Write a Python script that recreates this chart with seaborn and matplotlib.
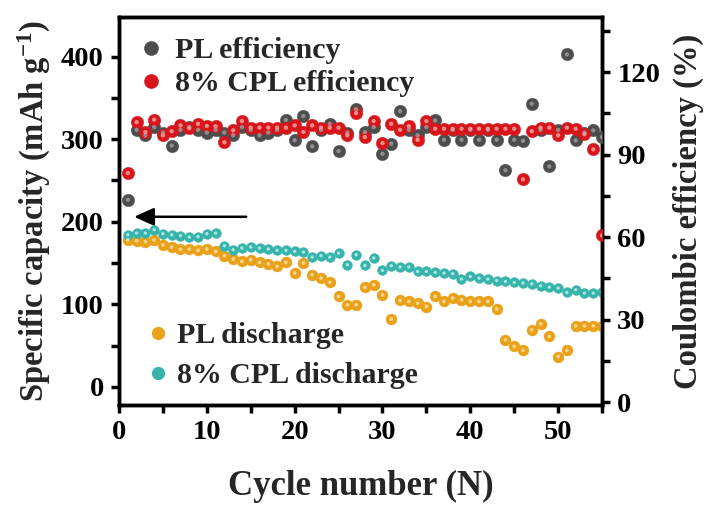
import numpy as np
import pandas as pd
import seaborn as sns
import matplotlib
matplotlib.use("Agg")
import matplotlib.pyplot as plt
from matplotlib.lines import Line2D
from matplotlib.ticker import MultipleLocator

# ---------------- data ----------------
cycles = list(range(1, 56))

pl_eff = [73.6, 99, 97, 100, 98, 93.3, 99, 100, 99, 98,
          99, 98, 97, 100, 99, 97, 98, 99, 102.6, 95.2,
          104, 93, 99, 101.2, 91.3, 98, 106.5, 98.2, 100, 90.3,
          94, 105.8, 99, 97, 100, 102.4, 95.4, 99, 95.4, 99,
          95.4, 99, 95.4, 84.3, 95.4, 95, 108.5, 99, 85.7, 99,
          126.4, 95.2, 98, 98.8, 96.4]

cpl_eff = [83.3, 101.8, 98.2, 102.7, 97, 98.5, 100.6, 99.6, 101.2, 100.4,
           100.3, 94.5, 98.8, 102.2, 99.8, 99.8, 99.8, 99.8, 99.8, 100.6,
           98.2, 100.6, 99.8, 99.8, 99.8, 97, 105.1, 96.4, 102.2, 94.2,
           101.2, 99, 100.3, 95.4, 102.2, 99.4, 99.4, 99.4, 99.4, 99.4,
           99.4, 99.4, 99.4, 99.4, 99.4, 81, 98.5, 99.8, 99.8, 97,
           99.8, 99.4, 97.4, 91.9, 60.6]

pl_dis = [178, 177, 176, 178, 172, 169.3, 166.9, 166.9, 165.3, 166.9,
          164, 158.8, 154.7, 151.9, 153.9, 150.7, 149.1, 145.8, 150.7, 137.8,
          149.9, 135.8, 131.7, 126.5, 109.5, 99.4, 99.4, 120.5, 123.6, 111.5,
          82, 104.6, 103.4, 101.4, 97.3, 109.5, 103.4, 107.5, 105.5, 103.4,
          103.4, 103.4, 94.1, 57, 48.9, 44, 69.1, 76.4, 61, 36.7,
          44, 73.9, 73.9, 73.9, 73.9]

cpl_dis = [184.2, 186.3, 186.3, 190.3, 185.5, 184.2, 183, 181.4, 182, 185.5,
           186.3, 170.9, 166, 168.1, 169.3, 168.1, 166.9, 165.3, 165.3, 164,
           163.2, 157.2, 158.8, 157.2, 162, 147.9, 160, 147, 156, 141,
           146.7, 145.1, 145.1, 139.8, 139.8, 138.6, 137.8, 137, 130.5, 133.7,
           131.7, 130.5, 128.8, 127.6, 126.4, 125.7, 124.8, 122.4, 120.8, 119.6,
           114.3, 117.6, 113.5, 113.5, 115]

labels_eff = ["PL efficiency", "8% CPL efficiency"]
labels_dis = ["PL discharge", "8% CPL discharge"]

df = pd.DataFrame({"cycle": cycles, "pl_eff": pl_eff, "cpl_eff": cpl_eff,
                   "pl_dis": pl_dis, "cpl_dis": cpl_dis})

# ---------------- style ----------------
sns.set_theme(style="ticks")
plt.rcParams["font.family"] = ["Liberation Serif", "DejaVu Serif"]
plt.rcParams["font.weight"] = "bold"
plt.rcParams["mathtext.fontset"] = "custom"
plt.rcParams["mathtext.rm"] = "Liberation Serif:bold"
plt.rcParams["mathtext.bf"] = "Liberation Serif:bold"
plt.rcParams["mathtext.it"] = "Liberation Serif:bold"
plt.rcParams["mathtext.default"] = "bf"

TICK_FS = 20.5

c_gray = "#4d4d4d"
c_red = "#d7161c"
c_orange = "#e9a11a"
c_teal = "#36b3ab"

fig = plt.figure(figsize=(7.10, 5.08), dpi=100)
ax = fig.add_axes([0.1676, 0.2028, 0.6803, 0.7637])
ax2 = ax.twinx()

def balls(axis, col, color, hl, size):
    sns.scatterplot(data=df, x="cycle", y=col, ax=axis, color=color, s=size,
                    edgecolor=color, linewidth=0.3, legend=False, zorder=3)
    sns.scatterplot(data=df, x="cycle", y=col, ax=axis, color=hl, s=size * 0.12,
                    edgecolor="none", linewidth=0, legend=False, zorder=4, alpha=0.85)

# discharge (left axis)
balls(ax, "pl_dis", c_orange, "#f8dca0", 62)
balls(ax, "cpl_dis", c_teal, "#bfeeea", 50)
# efficiency (right axis)
balls(ax2, "pl_eff", c_gray, "#9a9a9a", 80)
balls(ax2, "cpl_eff", c_red, "#f5a0a0", 80)

ax.set_xlim(0, 55)
ax.set_ylim(-22, 448)
ax2.set_ylim(-1, 140)

ax.xaxis.set_major_locator(MultipleLocator(10))
ax.xaxis.set_minor_locator(MultipleLocator(5))
ax.yaxis.set_major_locator(MultipleLocator(100))
ax.yaxis.set_minor_locator(MultipleLocator(50))
ax2.yaxis.set_major_locator(MultipleLocator(30))
ax2.yaxis.set_minor_locator(MultipleLocator(15))

for a in (ax, ax2):
    for sp in a.spines.values():
        sp.set_linewidth(2.5)
        sp.set_color("black")
ax.tick_params(axis="both", which="both", direction="out", length=6, width=2.5,
               labelsize=TICK_FS, colors="black", pad=5)
ax2.tick_params(axis="y", which="both", direction="out", length=6, width=2.5,
                labelsize=TICK_FS, colors="black", pad=5)

ax.set_xlabel("Cycle number (N)", fontsize=25, fontweight="bold", labelpad=18)
ax.set_ylabel("Specific capacity (mAh g$^{-1}$)", fontsize=23.5, fontweight="bold", labelpad=6)
ax2.set_ylabel("Coulombic efficiency (%)", fontsize=23.5, fontweight="bold", labelpad=9)

# arrow pointing to left axis
ax.annotate("", xy=(1.4, 206), xytext=(14.8, 206),
            arrowprops=dict(arrowstyle="-|>,head_length=1.0,head_width=0.45",
                            color="black", lw=1.8))

# legends
fs_leg = 21.5
h_eff = [Line2D([], [], marker="o", ls="", color=c_gray, markersize=9.5),
         Line2D([], [], marker="o", ls="", color=c_red, markersize=9.5)]
h_dis = [Line2D([], [], marker="o", ls="", color=c_orange, markersize=8.5),
         Line2D([], [], marker="o", ls="", color=c_teal, markersize=8.5)]
leg1 = ax2.legend(h_eff, labels_eff, loc="center left", bbox_to_anchor=(0.036, 0.870),
                  frameon=False, handletextpad=0.3, labelspacing=0.2, borderpad=0,
                  borderaxespad=0, handlelength=1.0,
                  prop={"size": fs_leg, "weight": "bold"})
leg2 = ax.legend(h_dis, labels_dis, loc="center left", bbox_to_anchor=(0.056, 0.127),
                 frameon=False, handletextpad=0.25, labelspacing=0.42, borderpad=0,
                 borderaxespad=0, handlelength=0.8,
                 prop={"size": fs_leg, "weight": "bold"})

# layout pass so tick labels are created with their final properties
fig.canvas.draw()
for a in (ax, ax2):
    for axis in (a.xaxis, a.yaxis):
        for t in axis.get_ticklabels():
            if t.get_visible() and t.get_text():
                t.get_window_extent()

fig.savefig("out.png", dpi=100)
